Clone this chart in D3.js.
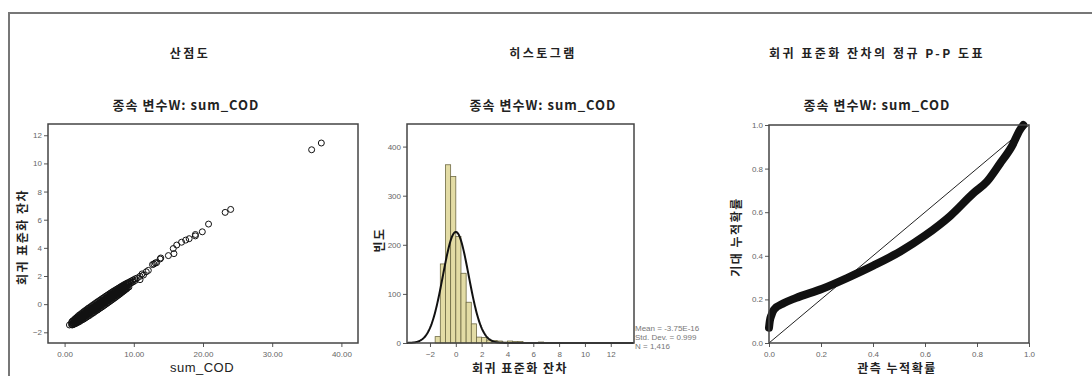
<!DOCTYPE html>
<html>
<head>
<meta charset="utf-8">
<script src="https://cdn.jsdelivr.net/npm/d3@7/dist/d3.min.js"></script>
<style>
  body { margin: 0; background: #fff; }
  svg { display: block; }
  .title { font-family: "Noto Sans CJK KR", sans-serif; font-weight: 700; font-size: 12px; fill: #222; letter-spacing: 2.5px; }
  .sub { font-family: "Noto Sans CJK KR", sans-serif; font-weight: 700; font-size: 13px; fill: #222; letter-spacing: 1px; }
  .alabel { font-family: "Noto Sans CJK KR", sans-serif; font-weight: 700; font-size: 12px; fill: #222; letter-spacing: 1.5px; }
  .tick text { font-family: "Liberation Sans", Arial, sans-serif; font-size: 8px; fill: #666; }
  .tick line { stroke: #555; }
  .domain { display: none; }
  .frame { fill: none; stroke: #444; stroke-width: 1.5; }
  .stats { font-family: "Liberation Sans", Arial, sans-serif; font-size: 8px; fill: #777; }
</style>
</head>
<body>
<svg width="1092" height="376"></svg>
<script>
// ---- data ----

// scatter: sum_COD vs standardized residual
const scatterPoints = [
  [0.7,-1.48],
  [1.0,-1.30],[1.0,-1.45],
  [1.2,-1.20],[1.2,-1.35],[1.2,-1.45],
  [1.4,-1.10],[1.4,-1.28],[1.4,-1.42],
  [1.6,-1.00],[1.6,-1.20],[1.6,-1.38],
  [1.8,-0.92],[1.8,-1.12],[1.8,-1.32],
  [2.0,-0.82],[2.0,-1.05],[2.0,-1.28],
  [2.2,-0.75],[2.2,-0.98],[2.2,-1.22],
  [2.4,-0.68],[2.4,-0.92],[2.4,-1.15],
  [2.6,-0.60],[2.6,-0.85],[2.6,-1.10],
  [2.8,-0.52],[2.8,-0.78],[2.8,-1.05],
  [3.0,-0.45],[3.0,-0.72],[3.0,-0.98],
  [3.2,-0.38],[3.2,-0.65],[3.2,-0.92],
  [3.4,-0.30],[3.4,-0.58],[3.4,-0.85],
  [3.6,-0.24],[3.6,-0.51],[3.6,-0.80],
  [3.8,-0.17],[3.8,-0.45],[3.8,-0.72],
  [4.0,-0.10],[4.0,-0.38],[4.0,-0.66],
  [4.2,-0.03],[4.2,-0.31],[4.2,-0.60],
  [4.4,0.04],[4.4,-0.25],[4.4,-0.52],
  [4.6,0.11],[4.6,-0.18],[4.6,-0.46],
  [4.8,0.18],[4.8,-0.11],[4.8,-0.40],
  [5.0,0.24],[5.0,-0.05],[5.0,-0.33],
  [5.2,0.31],[5.2,0.02],[5.2,-0.26],
  [5.4,0.38],[5.4,0.09],[5.4,-0.20],
  [5.6,0.44],[5.6,0.16],[5.6,-0.13],
  [5.8,0.51],[5.8,0.22],[5.8,-0.06],
  [6.0,0.58],[6.0,0.29],[6.0,0.01],
  [6.2,0.64],[6.2,0.36],[6.2,0.08],
  [6.4,0.71],[6.4,0.42],[6.4,0.15],
  [6.6,0.77],[6.6,0.49],[6.6,0.22],
  [6.8,0.84],[6.8,0.56],[6.8,0.29],
  [7.0,0.90],[7.0,0.62],[7.0,0.36],
  [7.2,0.96],[7.2,0.69],[7.2,0.43],
  [7.4,1.02],[7.4,0.76],[7.4,0.50],
  [7.6,1.08],[7.6,0.83],[7.6,0.58],
  [7.8,1.14],[7.8,0.89],[7.8,0.65],
  [8.0,1.20],[8.0,0.96],[8.0,0.72],
  [8.2,1.26],[8.2,1.03],[8.2,0.80],
  [8.4,1.32],[8.4,1.09],[8.4,0.88],
  [8.6,1.38],[8.6,1.16],[8.6,0.95],
  [8.8,1.43],[8.8,1.23],[8.8,1.03],
  [9.0,1.49],[9.0,1.30],[9.0,1.10],
  [9.3,1.56],[9.3,1.40],[9.3,1.22],
  [9.6,1.64],[9.6,1.50],
  [9.9,1.72],[9.9,1.58],
  [10.2,1.80],[10.2,1.68],
  [10.5,1.86],[10.9,1.74],[10.9,1.98],
  [1.1,-1.22],[1.1,-1.48],[1.3,-1.15],[1.3,-1.41],[1.5,-1.09],[1.5,-1.35],
  [1.7,-1.02],[1.7,-1.28],[1.9,-0.95],[1.9,-1.21],[2.1,-0.89],[2.1,-1.15],
  [2.3,-0.82],[2.3,-1.08],[2.5,-0.75],[2.5,-1.01],[2.7,-0.69],[2.7,-0.95],
  [2.9,-0.62],[2.9,-0.88],[3.1,-0.55],[3.1,-0.81],[3.3,-0.48],[3.3,-0.74],
  [3.5,-0.42],[3.5,-0.68],[3.7,-0.35],[3.7,-0.61],[3.9,-0.28],[3.9,-0.54],
  [4.1,-0.22],[4.1,-0.48],[4.3,-0.15],[4.3,-0.41],[4.5,-0.08],[4.5,-0.34],
  [4.7,-0.02],[4.7,-0.28],[4.9,0.05],[4.9,-0.21],[5.1,0.12],[5.1,-0.14],
  [5.3,0.19],[5.3,-0.07],[5.5,0.25],[5.5,-0.01],[5.7,0.32],[5.7,0.06],
  [5.9,0.39],[5.9,0.13],[6.1,0.45],[6.1,0.19],[6.3,0.52],[6.3,0.26],
  [6.5,0.59],[6.5,0.33],[6.7,0.65],[6.7,0.39],[6.9,0.72],[6.9,0.46],
  [7.1,0.79],[7.1,0.53],[7.3,0.86],[7.3,0.60],[7.5,0.92],[7.5,0.66],
  [7.7,0.99],[7.7,0.73],[7.9,1.06],[7.9,0.80],[8.1,1.12],[8.1,0.86],
  [8.3,1.19],[8.3,0.93],[8.5,1.26],[8.5,1.00],[8.7,1.32],[8.7,1.07],
  [8.9,1.39],[8.9,1.13],[9.1,1.46],[9.1,1.20],
  [11.2,2.15],[11.4,2.07],[11.8,2.30],[12.1,2.40],
  [12.7,2.81],[12.9,2.85],[13.1,2.93],[13.3,2.95],
  [13.8,3.21],[13.9,3.28],[15.0,3.45],[15.8,3.59],
  [15.7,3.95],[16.2,4.20],[16.9,4.40],[17.5,4.55],
  [18.0,4.65],[18.9,4.85],[18.9,4.95],[19.9,5.14],
  [20.8,5.69],[23.2,6.52],[24.0,6.73],[35.7,10.97],[37.1,11.45]
];
const scatterXTicks = [0, 10, 20, 30, 40];
const scatterYTicks = [-2, 0, 2, 4, 6, 8, 10, 12];

// histogram of standardized residuals
const binWidth = 0.4;
const binStart = [-1.6, -1.2, -0.8, -0.4, 0.0, 0.4, 0.8, 1.2, 1.6, 2.0, 2.4, 2.8, 3.2, 3.6, 4.0, 4.4, 4.8, 5.2, 5.6, 6.4, 10.8, 11.2];
const binCount = [13, 161, 363, 339, 217, 142, 83, 39, 12, 11, 6, 5, 4, 2, 4, 3, 3, 1, 1, 2, 1, 1];
const histMean = 0, histSd = 0.999, histN = 1416;
const histStats = ['Mean = -3.75E-16', 'Std. Dev. = 0.999', 'N = 1,416'];
const histXTicks = [-2, 0, 2, 4, 6, 8, 10, 12];
const histYTicks = [0, 100, 200, 300, 400];

// normal P-P plot
const ppObserved = [0.000, 0.003, 0.010, 0.019, 0.058, 0.102, 0.205, 0.300, 0.403, 0.505, 0.600, 0.697, 0.786, 0.838, 0.889, 0.933, 0.965, 0.978];
const ppExpected = [0.070, 0.100, 0.130, 0.153, 0.183, 0.206, 0.249, 0.298, 0.356, 0.420, 0.493, 0.583, 0.687, 0.740, 0.824, 0.900, 0.977, 1.000];
const ppTicks = [0, 0.2, 0.4, 0.6, 0.8, 1.0];

const svg = d3.select('svg');

// outer frame (left and top edges of the output window)
svg.append('path')
  .attr('d', 'M9,376 L9,13 L1092,13')
  .attr('fill', 'none').attr('stroke', '#777').attr('stroke-width', 2);

function text(cls, x, y, s, rot) {
  const t = svg.append('text').attr('class', cls).attr('text-anchor', 'middle').text(s);
  if (rot) t.attr('transform', 'translate(' + x + ',' + y + ') rotate(-90)');
  else t.attr('x', x).attr('y', y);
  return t;
}

// ---------- scatter ----------
{
  const x = d3.scaleLinear().domain([-2.4, 42.4]).range([48, 358]);
  const y = d3.scaleLinear().domain([-2.76, 12.8]).range([343, 124]);

  svg.append('g').attr('transform', 'translate(0,343)')
    .call(d3.axisBottom(x).tickValues(scatterXTicks).tickFormat(d3.format('.2f')).tickSize(4).tickPadding(4));
  svg.append('g').attr('transform', 'translate(48,0)')
    .call(d3.axisLeft(y).tickValues(scatterYTicks).tickSize(4).tickPadding(2));

  svg.append('g').selectAll('circle').data(scatterPoints).enter().append('circle')
    .attr('cx', d => x(d[0])).attr('cy', d => y(d[1])).attr('r', 3)
    .attr('fill', 'none').attr('stroke', '#111').attr('stroke-width', 1);

  svg.append('rect').attr('class', 'frame').attr('x', 48).attr('y', 124).attr('width', 310).attr('height', 219);

  text('title', 190, 58, '산점도');
  text('sub', 186, 110, '종속 변수W: sum_COD');
  text('alabel', 202, 372, 'sum_COD').style('font-family', 'Liberation Sans, Arial, sans-serif').style('font-size', '13px').style('font-weight', 400).style('letter-spacing', '0.5px');
  text('alabel', 27, 237, '회귀 표준화 잔차', true);
}

// ---------- histogram ----------
{
  const x = d3.scaleLinear().domain([-3.78, 13.8]).range([407, 634]);
  const y = d3.scaleLinear().domain([0, 446]).range([343, 124]);

  svg.append('g').attr('transform', 'translate(0,343)')
    .call(d3.axisBottom(x).tickValues(histXTicks).tickSize(4).tickPadding(4));
  svg.append('g').attr('transform', 'translate(407,0)')
    .call(d3.axisLeft(y).tickValues(histYTicks).tickSize(4).tickPadding(2));

  svg.append('g').selectAll('rect').data(binStart).enter().append('rect')
    .attr('x', d => x(d))
    .attr('y', (d, i) => y(binCount[i]))
    .attr('width', x(binWidth) - x(0))
    .attr('height', (d, i) => y(0) - y(binCount[i]))
    .attr('fill', '#e3dca5').attr('stroke', '#6e6a44').attr('stroke-width', 0.8);

  // fitted normal curve from the reported mean / sd / N
  const curveX = d3.range(x.domain()[0], x.domain()[1], 0.05);
  const dens = v => histN * binWidth / (histSd * Math.sqrt(2 * Math.PI)) * Math.exp(-0.5 * Math.pow((v - histMean) / histSd, 2));
  svg.append('path').datum(curveX)
    .attr('d', d3.line().x(d => x(d)).y(d => y(dens(d))))
    .attr('fill', 'none').attr('stroke', '#111').attr('stroke-width', 2);

  svg.append('rect').attr('class', 'frame').attr('x', 407).attr('y', 124).attr('width', 227).attr('height', 219);

  svg.append('g').selectAll('text').data(histStats).enter().append('text')
    .attr('class', 'stats').attr('x', 635).attr('y', (d, i) => 331 + i * 9).text(d => d);

  text('title', 543, 58, '히스토그램');
  text('sub', 543, 110, '종속 변수W: sum_COD');
  text('alabel', 520, 373, '회귀 표준화 잔차');
  text('alabel', 384, 240, '빈도', true);
}

// ---------- P-P plot ----------
{
  const x = d3.scaleLinear().domain([0, 1]).range([769, 1029]);
  const y = d3.scaleLinear().domain([0, 1]).range([343, 125]);

  svg.append('g').attr('transform', 'translate(0,343)')
    .call(d3.axisBottom(x).tickValues(ppTicks).tickFormat(d3.format('.1f')).tickSize(4).tickPadding(4));
  svg.append('g').attr('transform', 'translate(769,0)')
    .call(d3.axisLeft(y).tickValues(ppTicks).tickFormat(d3.format('.1f')).tickSize(4).tickPadding(2));

  svg.append('line')
    .attr('x1', x(0)).attr('y1', y(0)).attr('x2', x(1)).attr('y2', y(1))
    .attr('stroke', '#222').attr('stroke-width', 1);

  svg.append('path').datum(d3.range(ppObserved.length))
    .attr('d', d3.line().x(i => x(ppObserved[i])).y(i => y(ppExpected[i])).curve(d3.curveMonotoneX))
    .attr('fill', 'none').attr('stroke', '#111').attr('stroke-width', 8).attr('stroke-linecap', 'round');

  svg.append('rect').attr('class', 'frame').attr('x', 769).attr('y', 125).attr('width', 260).attr('height', 218);

  text('title', 877, 58, '회귀 표준화 잔차의 정규 P-P 도표');
  text('sub', 877, 110, '종속 변수W: sum_COD');
  text('alabel', 897, 373, '관측 누적확률');
  text('alabel', 741, 237, '기대 누적확률', true);
}
</script>
</body>
</html>
